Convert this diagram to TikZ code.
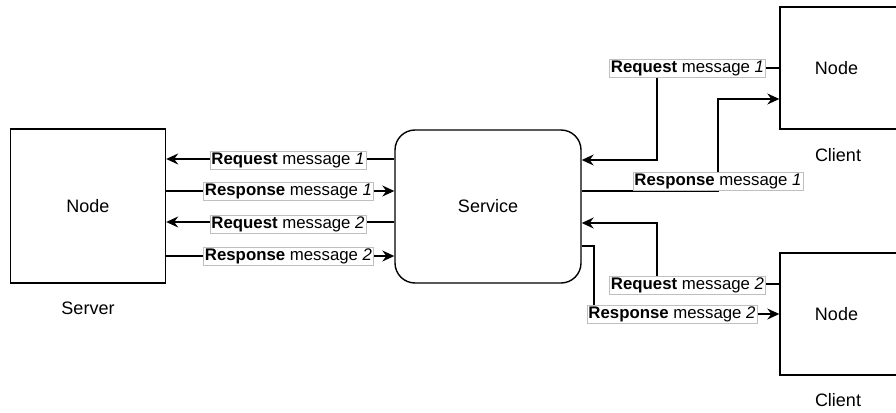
\documentclass[tikz,border=0pt]{standalone}
\usepackage{fontspec}
\setmainfont{Liberation Sans}
\usetikzlibrary{arrows.meta}
\begin{document}
\begin{tikzpicture}[x=1pt,y=-1pt,
  box/.style={draw=black, line width=1.4pt, fill=white, inner sep=0pt,
    font=\fontsize{18}{21}\selectfont},
  caption/.style={font=\fontsize{18}{21}\selectfont, inner sep=0pt},
  arr/.style={line width=1.3pt, -{Stealth[length=12pt,width=11pt,inset=4pt]}},
  lbl/.style={fill=white, draw=black!25, line width=0.6pt, inner xsep=1.5pt, inner ysep=1.5pt,
    font=\fontsize{16.8}{19}\selectfont}]
\useasboundingbox (0,0) rectangle (896,412);
\clip (0,0) rectangle (896,412);

% nodes
\node[box, minimum width=155pt, minimum height=154pt] (server) at (88,206) {Node};
\node[caption] (servercap) at (88,308) {Server};
\node[box, rounded corners=20pt, minimum width=186pt, minimum height=153pt] (service) at (488,206.5) {Service};
\node[box, minimum width=120pt, minimum height=122pt, text width=112pt, align=center] (client1) at (840,68) {\hspace*{-7pt}Node};
\node[caption] (client1cap) at (838,155) {Client};
\node[box, minimum width=120pt, minimum height=122pt, text width=112pt, align=center] (client2) at (840,314) {\hspace*{-7pt}Node};
\node[caption] (client2cap) at (838,400) {Client};

% server <-> service
\draw[arr] (service.west |- 0,159) -- (server.east |- 0,159);
\draw[arr] (server.east |- 0,191) -- (service.west |- 0,191);
\draw[arr] (service.west |- 0,222) -- (server.east |- 0,222);
\draw[arr] (server.east |- 0,256) -- (service.west |- 0,256);
\node[lbl] (lreq1) at (288,160) {\textbf{Request} message \textit{1}};
\node[lbl] (lres1) at (288.5,191) {\textbf{Response} message \textit{1}};
\node[lbl] (lreq2) at (288,224) {\textbf{Request} message \textit{2}};
\node[lbl] (lres2) at (288.5,256) {\textbf{Response} message \textit{2}};

% service <-> clients
\draw[arr] (client1.west |- 0,68) -| (657,160) -- (service.east |- 0,160);
\draw[arr] (service.east |- 0,191) -| (718,99) -- (client1.west |- 0,99);
\draw[arr] (client2.west |- 0,284) -| (657,223) -- (service.east |- 0,223);
\draw[arr] (service.east |- 0,246) -| (594,314) -- (client2.west |- 0,314);
\node[lbl] (rreq1) at (687.5,68) {\textbf{Request} message \textit{1}};
\node[lbl] (rres1) at (718,181) {\textbf{Response} message \textit{1}};
\node[lbl] (rreq2) at (687.5,285) {\textbf{Request} message \textit{2}};
\node[lbl] (rres2) at (672,314) {\textbf{Response} message \textit{2}};
\end{tikzpicture}
\end{document}
